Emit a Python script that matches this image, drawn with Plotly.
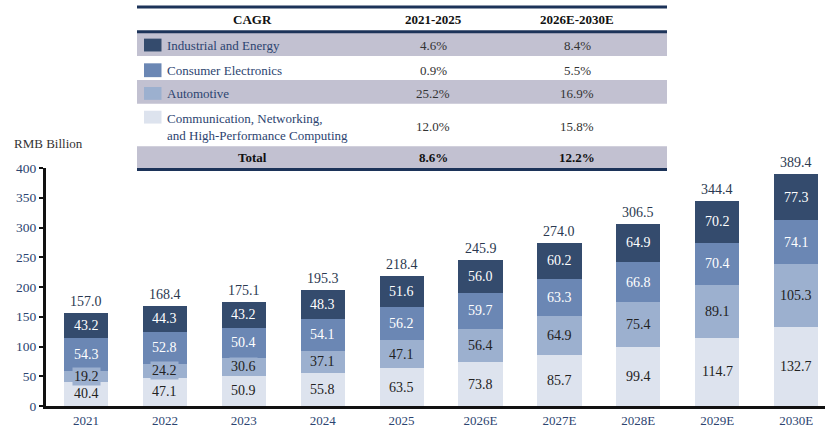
import plotly.graph_objects as go

years = ["2021", "2022", "2023", "2024", "2025", "2026E", "2027E", "2028E", "2029E", "2030E"]
communication = [40.4, 47.1, 50.9, 55.8, 63.5, 73.8, 85.7, 99.4, 114.7, 132.7]
automotive = [19.2, 24.2, 30.6, 37.1, 47.1, 56.4, 64.9, 75.4, 89.1, 105.3]
consumer = [54.3, 52.8, 50.4, 54.1, 56.2, 59.7, 63.3, 66.8, 70.4, 74.1]
industrial = [43.2, 44.3, 43.2, 48.3, 51.6, 56.0, 60.2, 64.9, 70.2, 77.3]
totals = [157.0, 168.4, 175.1, 195.3, 218.4, 245.9, 274.0, 306.5, 344.4, 389.4]

table_header = ["CAGR", "2021-2025", "2026E-2030E"]
segment_names = ["Industrial and Energy", "Consumer Electronics", "Automotive",
                 "Communication, Networking,<br>and High-Performance Computing"]
cagr_2021_2025 = ["4.6%", "0.9%", "25.2%", "12.0%"]
cagr_2026_2030 = ["8.4%", "5.5%", "16.9%", "15.8%"]
total_cagr = ["8.6%", "12.2%"]

C_IND = "#344b6d"
C_CON = "#6b87b4"
C_AUT = "#9cb0cf"
C_COM = "#dde3ee"
C_LINE = "#1c3359"
C_GRAY = "#c2c1d1"
FONT = "Liberation Serif, Times New Roman, serif"

W, H = 825, 428
L, R, T, B = 46, 0, 168, 19
PW, PH = W - L - R, H - T - B


def xp(px):
    return (px - L) / PW


def yp(py):
    return (H - B - py) / PH


series = [
    ("Communication", communication, C_COM, "#222222"),
    ("Automotive", automotive, C_AUT, "#222222"),
    ("Consumer Electronics", consumer, C_CON, "#ffffff"),
    ("Industrial and Energy", industrial, C_IND, "#ffffff"),
]

fig = go.Figure()
for name, vals, col, _ in series:
    fig.add_trace(go.Bar(x=years, y=vals, name=name, marker=dict(color=col, line=dict(width=0)),
                         width=0.56, hoverinfo="skip"))

annotations = []
base = [0.0] * len(years)
for name, vals, col, tcol in series:
    for i, v in enumerate(vals):
        annotations.append(dict(
            x=i, y=base[i] + v / 2, xref="x", yref="y", text=f"{v:.1f}",
            showarrow=False, font=dict(family=FONT, size=14, color=tcol),
            bgcolor=col if name == "Automotive" else None, borderpad=1))
        base[i] += v

for i, t in enumerate(totals):
    annotations.append(dict(x=i, y=t, xref="x", yref="y", text=f"{t:.1f}",
                            showarrow=False, yanchor="bottom", yshift=2,
                            font=dict(family=FONT, size=14, color="#2b3950")))

annotations.append(dict(x=xp(12), y=yp(143), xref="paper", yref="paper", text="RMB Billion",
                        showarrow=False, xanchor="left", yanchor="middle",
                        font=dict(family=FONT, size=13, color="#333333")))

# ---- CAGR table ----
TX0, TX1 = 137, 667
shapes = []
for (y0, y1) in [(31, 54.5), (79, 103), (146, 168.5)]:
    shapes.append(dict(type="rect", xref="paper", yref="paper", x0=xp(TX0), x1=xp(TX1),
                       y0=yp(y1), y1=yp(y0), fillcolor=C_GRAY, line=dict(width=0), layer="below"))
for yl in [5, 30, 169.5]:
    shapes.append(dict(type="line", xref="paper", yref="paper", x0=xp(TX0), x1=xp(TX1),
                       y0=yp(yl), y1=yp(yl), line=dict(color=C_LINE, width=3)))

col_x = [252, 433, 577]
for cx, txt in zip(col_x, table_header):
    annotations.append(dict(x=xp(cx), y=yp(17.5), xref="paper", yref="paper", text=f"<b>{txt}</b>",
                            showarrow=False, xanchor="center", yanchor="middle",
                            font=dict(family=FONT, size=13, color="#111111")))

row_text_y = [44, 69, 92.5, 126]
square_y = [(37, 50), (62, 76), (86, 99), (110, 123)]
sq_cols = [C_IND, C_CON, C_AUT, C_COM]
for k in range(4):
    shapes.append(dict(type="rect", xref="paper", yref="paper", x0=xp(144), x1=xp(161.5),
                       y0=yp(square_y[k][1]), y1=yp(square_y[k][0]), fillcolor=sq_cols[k],
                       line=dict(width=0)))
    annotations.append(dict(x=xp(165), y=yp(row_text_y[k]), xref="paper", yref="paper",
                            text=segment_names[k], showarrow=False, xanchor="left", yanchor="middle",
                            align="left", font=dict(family=FONT, size=13, color="#2c4470")))
    for cx, val in zip(col_x[1:], [cagr_2021_2025[k], cagr_2026_2030[k]]):
        annotations.append(dict(x=xp(cx), y=yp(row_text_y[k]), xref="paper", yref="paper", text=val,
                                showarrow=False, xanchor="center", yanchor="middle",
                                font=dict(family=FONT, size=13, color="#333333")))

annotations.append(dict(x=xp(col_x[0]), y=yp(157.5), xref="paper", yref="paper", text="<b>Total</b>",
                        showarrow=False, xanchor="center", yanchor="middle",
                        font=dict(family=FONT, size=13, color="#111111")))
for cx, val in zip(col_x[1:], total_cagr):
    annotations.append(dict(x=xp(cx), y=yp(157.5), xref="paper", yref="paper", text=f"<b>{val}</b>",
                            showarrow=False, xanchor="center", yanchor="middle",
                            font=dict(family=FONT, size=13, color="#111111")))

fig.update_layout(
    width=W, height=H, barmode="stack", showlegend=False,
    margin=dict(l=L, r=R, t=T, b=B, pad=0),
    paper_bgcolor="white", plot_bgcolor="white",
    font=dict(family=FONT, size=13, color="#2c4470"),
    annotations=annotations, shapes=shapes,
    xaxis=dict(type="category", range=[-0.507, 9.366], showline=True, linecolor="#111111", linewidth=3,
               ticks="", showgrid=False, zeroline=False,
               tickfont=dict(family=FONT, size=13, color="#2c4470")),
    yaxis=dict(range=[0, 400], dtick=50, showline=True, linecolor="#111111", linewidth=3,
               ticks="outside", ticklen=4, tickwidth=1.5, tickcolor="#111111",
               showgrid=False, zeroline=False,
               tickfont=dict(family=FONT, size=13.5, color="#2c4470")),
)

fig.write_html("out.html", config={"displayModeBar": False},
               post_script="document.body.style.margin='0';document.body.style.overflow='hidden';")
